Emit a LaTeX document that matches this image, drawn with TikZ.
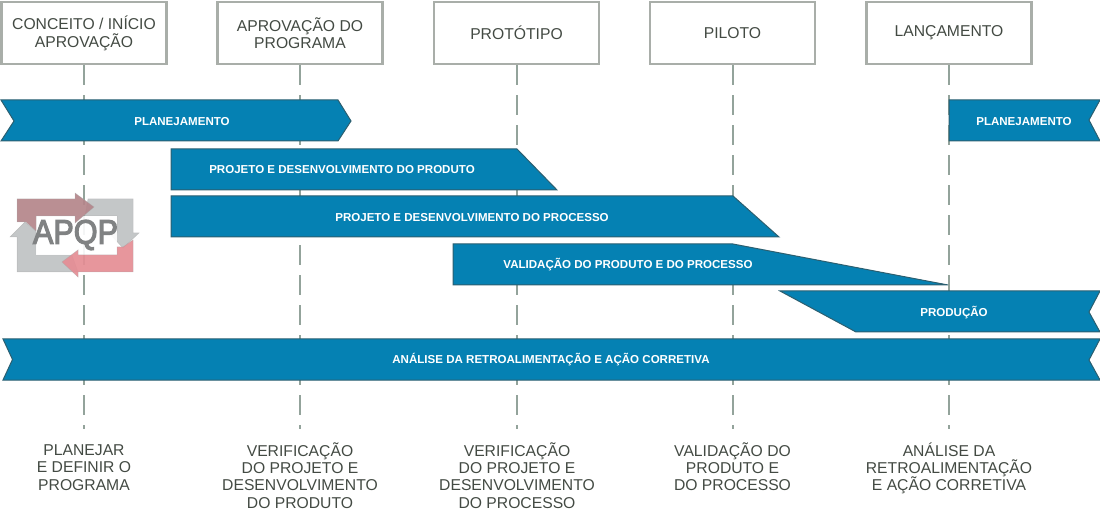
\documentclass[tikz,border=0pt]{standalone}
\usepackage{fontspec}
\setmainfont{Liberation Sans}
\newfontfamily\logofont[FakeBold=3.5]{Liberation Sans}
\definecolor{barblue}{HTML}{0581B3}
\definecolor{baredge}{HTML}{2C5F70}
\definecolor{boxedge}{HTML}{A9AEA9}
\definecolor{dashcol}{HTML}{93A39B}
\definecolor{txtcol}{HTML}{434A43}
\definecolor{logored}{HTML}{B4858A}
\definecolor{logogrey}{HTML}{BFC2C3}
\definecolor{logopink}{HTML}{E58D94}
\definecolor{logotxt}{HTML}{808283}
\tikzset{
  milestone/.style={draw=boxedge,line width=2.4pt,fill=white,minimum width=165pt,minimum height=62pt,inner sep=0pt,align=center,text=txtcol,font=\fontsize{15.7}{17.5}\selectfont},
  timeline/.style={draw=dashcol,line width=2pt,dash pattern=on 20pt off 10pt},
  bar/.style={draw=baredge,line width=1pt,fill=barblue,line join=miter},
  barlabel/.style={text=white,inner sep=0pt,font=\fontsize{11.55}{14}\selectfont\bfseries},
  footlabel/.style={anchor=north,align=center,inner sep=0pt,text=txtcol,font=\fontsize{15.7}{17.4}\selectfont},
  logopart/.style={opacity=.92,draw=black!35,draw opacity=.5,line width=.5pt}
}
\begin{document}
\begin{tikzpicture}[x=1pt,y=-1pt]
\useasboundingbox (0,0) rectangle (1100,510);
% milestones
\node[milestone] (m1) at (84,33) {\rule{0pt}{14pt}CONCEITO / INÍCIO\\APROVAÇÃO};
\node[milestone] (m2) at (300,33) {\rule{0pt}{14pt}APROVAÇÃO DO\\PROGRAMA};
\node[milestone] (m3) at (516.5,33) {PROTÓTIPO};
\node[milestone] (m4) at (732.5,33) {PILOTO};
\node[milestone] (m5) at (949,33) {\raisebox{2pt}{LANÇAMENTO}};
% timeline ends
\coordinate (e1) at (84,429);
\coordinate (e2) at (300,429);
\coordinate (e3) at (516.5,429);
\coordinate (e4) at (732.5,429);
\coordinate (e5) at (949,429);
\foreach \i in {1,...,5}{\draw[timeline] (m\i.south) -- (e\i);}
% bars
\draw[bar] (1,100) -- (338,100) -- (351,121) -- (338,141) -- (1,141) -- (14,121) -- cycle;
\draw[bar] (949,100) -- (1100,100) -- (1089,120) -- (1100,141) -- (949,141) -- cycle;
\draw[bar] (171,149) -- (517,149) -- (557,190) -- (171,190) -- cycle;
\draw[bar] (171,196) -- (733,196) -- (779,237) -- (171,237) -- cycle;
\draw[bar] (453,244) -- (733,244) -- (948,285) -- (453,285) -- cycle;
\draw[bar] (780,291) -- (1100,291) -- (1089,312) -- (1100,332) -- (856,332) -- cycle;
\draw[bar] (3,339) -- (1100,339) -- (1089,360) -- (1100,380) -- (3,380) -- (12.5,359.5) -- cycle;
\node[barlabel] (b1) at (182,121.7) {PLANEJAMENTO};
\node[barlabel] (b2) at (1024,121.2) {PLANEJAMENTO};
\node[barlabel] (b3) at (342,170) {PROJETO E DESENVOLVIMENTO DO PRODUTO};
\node[barlabel] (b4) at (472,217.7) {PROJETO E DESENVOLVIMENTO DO PROCESSO};
\node[barlabel] (b5) at (628,265) {VALIDAÇÃO DO PRODUTO E DO PROCESSO};
\node[barlabel] (b6) at (954,312.7) {PRODUÇÃO};
\node[barlabel] (b7) at (551,359.7) {ANÁLISE DA RETROALIMENTAÇÃO E AÇÃO CORRETIVA};
% logo
\path[logopart,fill=logogrey] (88,199) -- (133,199) -- (133,233) -- (139,233) -- (123,248) -- (109,233) -- (117,233) -- (117,216) -- (85,216) -- cycle;
\path[logopart,fill=logogrey] (17,272) -- (17,237) -- (10,237) -- (25,222) -- (36,231) -- (36,255) -- (72,255) -- (78,272) -- cycle;
\fill[white,opacity=.9] (36,216) rectangle (117,255);
\path[logopart,fill=logored] (17,199) -- (75,199) -- (75,193) -- (94,207) -- (75,223) -- (75,216) -- (36,216) -- (36,231) -- (26,222) -- (17,222) -- cycle;
\path[logopart,fill=logopink] (133,240) -- (133,272) -- (78,272) -- (78,277) -- (62,262) -- (78,250) -- (78,255) -- (117,255) -- (117,247) -- (123,247) -- cycle;
\node[inner sep=0pt,text=logotxt,font=\fontsize{34}{34}\logofont] (logo) at (75.5,235) {\scalebox{.9}[1]{APQP}};
% footer
\node[footlabel] (f1) at (84,442.2) {\rule{0pt}{13pt}PLANEJAR\\E DEFINIR O\\PROGRAMA};
\node[footlabel] (f2) at (300,442.2) {\rule{0pt}{13pt}VERIFICAÇÃO\\DO PROJETO E\\DESENVOLVIMENTO\\DO PRODUTO};
\node[footlabel] (f3) at (517,442.2) {\rule{0pt}{13pt}VERIFICAÇÃO\\DO PROJETO E\\DESENVOLVIMENTO\\DO PROCESSO};
\node[footlabel] (f4) at (732.5,442.2) {\rule{0pt}{13pt}VALIDAÇÃO DO\\PRODUTO E\\DO PROCESSO};
\node[footlabel] (f5) at (949,442.2) {\rule{0pt}{13pt}ANÁLISE DA\\RETROALIMENTAÇÃO\\E AÇÃO CORRETIVA};
\end{tikzpicture}
\end{document}
